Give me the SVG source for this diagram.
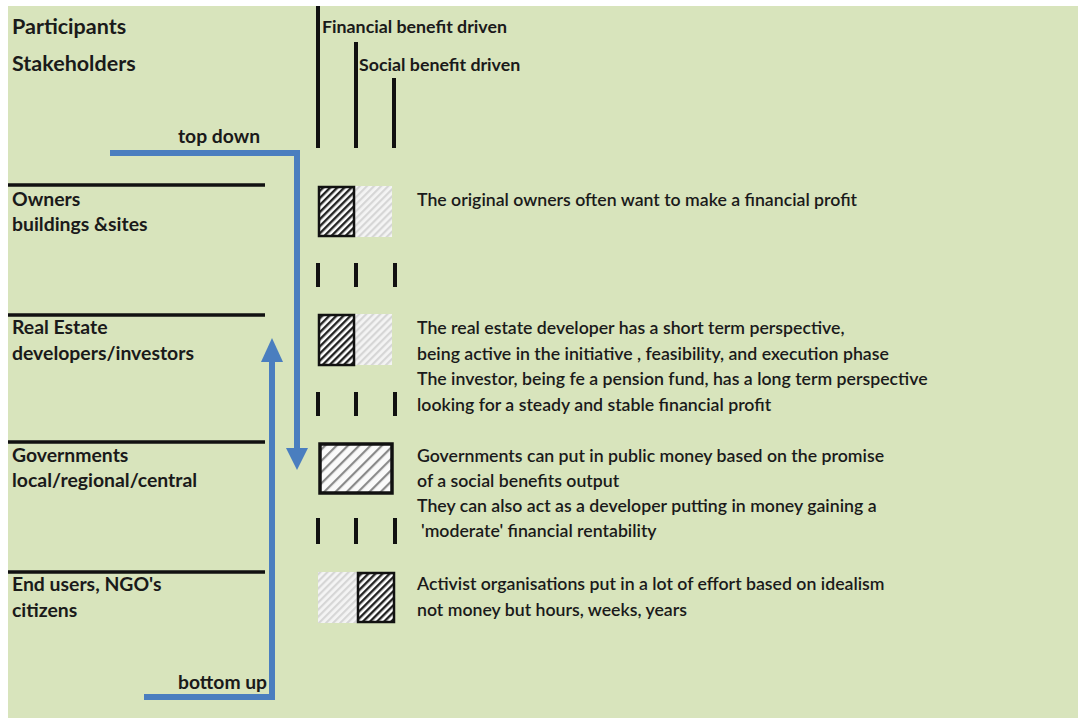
<svg xmlns="http://www.w3.org/2000/svg" width="1078" height="718" viewBox="0 0 1078 718">
<style>
.t{font-family:Lato,"Open Sans","Liberation Sans",sans-serif;fill:#1a1a1a}
.h{font-size:21.5px;font-weight:bold}
.c{font-size:17.8px;font-weight:bold}
.l{font-size:19.4px;font-weight:bold}
.a{font-size:19.3px;font-weight:bold}
.d{font-size:17.7px;font-weight:600}
.sep{stroke:#111;stroke-width:3.5}
.vl{stroke:#111;stroke-width:4}
.blue{stroke:#4a7ebf;stroke-width:6;fill:none}
</style>
<defs>
<pattern id="dark" width="5" height="5" patternUnits="userSpaceOnUse" patternTransform="rotate(45)">
<rect width="5" height="5" fill="#fff"/>
<rect width="2.4" height="5" fill="#222"/>
</pattern>
<pattern id="light" width="5" height="5" patternUnits="userSpaceOnUse" patternTransform="rotate(45)">
<rect width="5" height="5" fill="#f4f4f4"/>
<rect width="2.2" height="5" fill="#d6d6d6"/>
</pattern>
<pattern id="mid" width="8" height="8" patternUnits="userSpaceOnUse" patternTransform="rotate(45)">
<rect width="8" height="8" fill="#fafafa"/>
<rect width="2.2" height="8" fill="#8a8a8a"/>
</pattern>
</defs>
<rect x="0" y="0" width="1078" height="718" fill="#fff"/>
<rect x="8" y="6" width="1070" height="712" fill="#d8e4bc"/>

<g id="header">
<text class="t h" x="12" y="34">Participants</text>
<text class="t h" x="12" y="71">Stakeholders</text>
<line class="vl" x1="318" y1="6" x2="318" y2="148"/>
<line class="vl" x1="356" y1="42" x2="356" y2="148"/>
<line class="vl" x1="394" y1="78" x2="394" y2="148"/>
<text class="t c" x="322" y="33">Financial benefit driven</text>
<text class="t c" x="359" y="71">Social benefit driven</text>
</g>

<g id="owners">
<line class="sep" x1="8" y1="185" x2="265" y2="185"/>
<text class="t l" x="12" y="206">Owners</text>
<text class="t l" x="12" y="231">buildings &amp;sites</text>
<rect x="355" y="186" width="37" height="51" fill="url(#light)"/>
<rect x="319" y="187" width="35" height="49" fill="url(#dark)" stroke="#111" stroke-width="2.5"/>
<text class="t d" x="417" y="206">The original owners often want to make a financial profit</text>
</g>

<g id="developers">
<line class="sep" x1="8" y1="315" x2="265" y2="315"/>
<text class="t l" x="12" y="334">Real Estate</text>
<text class="t l" x="12" y="360">developers/investors</text>
<rect x="355" y="314" width="37" height="51" fill="url(#light)"/>
<rect x="319" y="315" width="35" height="50" fill="url(#dark)" stroke="#111" stroke-width="2.5"/>
<text class="t d" x="417" y="334">The real estate developer has a short term perspective,</text>
<text class="t d" x="417" y="360">being active in the initiative , feasibility, and execution phase</text>
<text class="t d" x="417" y="385">The investor, being fe a pension fund, has a long term perspective</text>
<text class="t d" x="417" y="411">looking for a steady and stable financial profit</text>
</g>

<g id="governments">
<line class="sep" x1="8" y1="442" x2="265" y2="442"/>
<text class="t l" x="12" y="462">Governments</text>
<text class="t l" x="12" y="487">local/regional/central</text>
<rect x="320" y="444" width="72" height="49" fill="url(#mid)" stroke="#111" stroke-width="3.5"/>
<text class="t d" x="417" y="462">Governments can put in public money based on the promise</text>
<text class="t d" x="417" y="487">of a social benefits output</text>
<text class="t d" x="417" y="512">They can also act as a developer putting in money gaining a</text>
<text class="t d" x="421" y="537">'moderate' financial rentability</text>
</g>

<g id="endusers">
<line class="sep" x1="8" y1="572" x2="265" y2="572"/>
<text class="t l" x="12" y="591">End users, NGO's</text>
<text class="t l" x="12" y="617">citizens</text>
<rect x="318" y="572" width="39" height="51" fill="url(#light)"/>
<rect x="358" y="573" width="36" height="49" fill="url(#dark)" stroke="#111" stroke-width="2.5"/>
<text class="t d" x="417" y="590">Activist organisations put in a lot of effort based on idealism</text>
<text class="t d" x="417" y="616">not money but hours, weeks, years</text>
</g>

<g id="connectors">
<line class="vl" x1="318" y1="263" x2="318" y2="287"/>
<line class="vl" x1="356" y1="263" x2="356" y2="287"/>
<line class="vl" x1="395" y1="263" x2="395" y2="287"/>
<line class="vl" x1="318" y1="392" x2="318" y2="416"/>
<line class="vl" x1="356" y1="392" x2="356" y2="416"/>
<line class="vl" x1="395" y1="392" x2="395" y2="416"/>
<line class="vl" x1="318" y1="518" x2="318" y2="544"/>
<line class="vl" x1="356" y1="518" x2="356" y2="544"/>
<line class="vl" x1="395" y1="518" x2="395" y2="544"/>
<polyline class="blue" points="110,153 297,153 297,450"/>
<polygon points="286,448 308,448 297,470" fill="#4a7ebf"/>
<polyline class="blue" points="144,697 272,697 272,360"/>
<polygon points="261,362 283,362 272,338" fill="#4a7ebf"/>
<text class="t a" x="178" y="143">top down</text>
<text class="t a" x="178" y="689">bottom up</text>
</g>
</svg>
